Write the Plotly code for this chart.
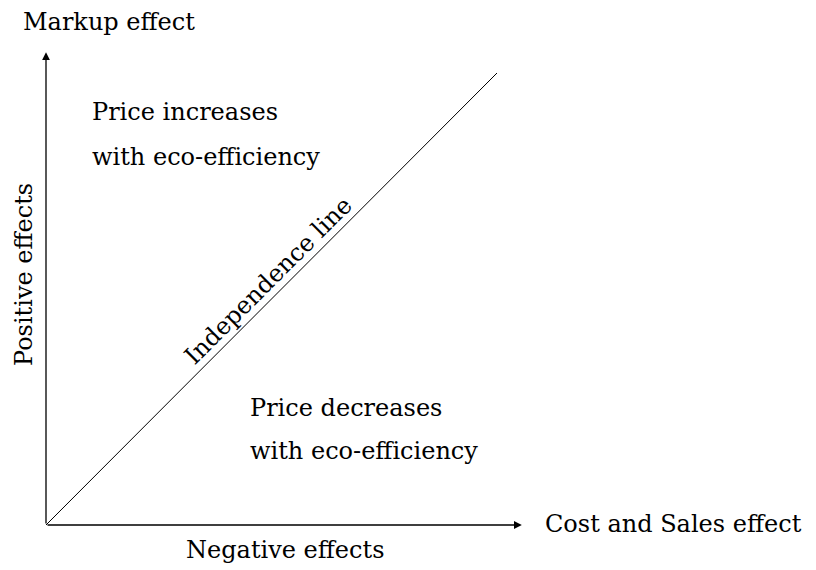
import plotly.graph_objects as go

# Data (in normalized effect units: origin at 0, independence line from 0 to 1)
line_x = [0.0, 1.0]
line_y = [0.0, 1.0]
x_axis_end = 1.055
y_axis_end = 1.046

region_labels = ["Price increases", "with eco-efficiency", "Price decreases", "with eco-efficiency"]
region_x = [0.0976, 0.0976, 0.4479, 0.4479]
region_y = [0.9137, 0.8142, 0.2588, 0.1637]

FONT = "DejaVu Serif"
FS = 24

def X(px):
    return (px - 46) / 451.0

def Y(py):
    return (525 - py) / 452.0

fig = go.Figure()
fig.add_trace(go.Scatter(x=line_x, y=line_y, mode="lines",
                         line=dict(color="black", width=1), hoverinfo="skip"))

annotations = []
# axes arrows
annotations.append(dict(x=x_axis_end, y=0, ax=0, ay=0, xref="x", yref="y", axref="x", ayref="y",
                        showarrow=True, arrowhead=2, arrowsize=1.2, arrowwidth=1.3, arrowcolor="black", text=""))
annotations.append(dict(x=0, y=y_axis_end, ax=0, ay=0, xref="x", yref="y", axref="x", ayref="y",
                        showarrow=True, arrowhead=2, arrowsize=1.2, arrowwidth=1.3, arrowcolor="black", text=""))

for t, xx, yy in zip(region_labels, region_x, region_y):
    annotations.append(dict(x=xx, y=yy, text=t, showarrow=False, xanchor="left", yanchor="middle",
                            font=dict(family=FONT, size=FS, color="black")))

annotations.append(dict(x=X(21), y=Y(22), text="Markup effect", showarrow=False, xanchor="left", yanchor="middle",
                        font=dict(family=FONT, size=FS, color="black")))
annotations.append(dict(x=X(543), y=Y(524), text="Cost and Sales effect", showarrow=False, xanchor="left", yanchor="middle",
                        font=dict(family=FONT, size=FS, color="black")))
annotations.append(dict(x=X(285), y=Y(550), text="Negative effects", showarrow=False, xanchor="center", yanchor="middle",
                        font=dict(family=FONT, size=FS, color="black")))
annotations.append(dict(x=X(24), y=Y(275), text="Positive effects", showarrow=False, xanchor="center", yanchor="middle",
                        textangle=-90, font=dict(family=FONT, size=FS, color="black")))
annotations.append(dict(x=X(268), y=Y(281), text="Independence line", showarrow=False, xanchor="center", yanchor="middle",
                        textangle=-45, font=dict(family=FONT, size=FS, color="black")))

# The page body has an 8px margin, so shift the visible window by 8px
fig.update_layout(
    width=816, height=570,
    margin=dict(l=0, r=0, t=0, b=0),
    paper_bgcolor="white", plot_bgcolor="white",
    showlegend=False,
    annotations=annotations,
    xaxis=dict(range=[X(8), X(824)], visible=False, fixedrange=True),
    yaxis=dict(range=[Y(578), Y(8)], visible=False, fixedrange=True),
)

fig.write_html("out.html")
